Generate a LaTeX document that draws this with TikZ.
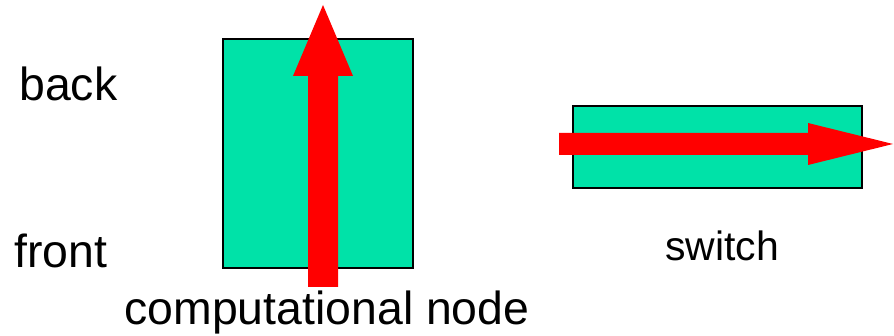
\documentclass[tikz,border=0pt]{standalone}
\usepackage{fontspec}
\setmainfont{Liberation Sans}
\definecolor{boardgreen}{RGB}{0,226,168}
\definecolor{flowred}{RGB}{255,0,0}
\begin{document}
\begin{tikzpicture}[every node/.style={inner sep=0pt,anchor=base},
    label/.style={font=\fontsize{26.4}{32}\selectfont},
    board/.style={fill=boardgreen,draw=black,line width=0.8pt}]
    \useasboundingbox (0,0) rectangle (17.88,6.7);
    % computational node, seen from above
    \draw[board] (4.46,1.34) rectangle (8.26,5.92);
    \fill[flowred] (6.16,0.96) -- (6.16,5.18) -- (5.86,5.18) -- (6.46,6.6)
        -- (7.06,5.18) -- (6.76,5.18) -- (6.76,0.96) -- cycle;
    % switch
    \draw[board] (11.46,2.94) rectangle (17.24,4.58);
    \fill[flowred] (11.18,4.04) -- (16.16,4.04) -- (16.16,4.24) -- (17.86,3.82)
        -- (16.16,3.40) -- (16.16,3.60) -- (11.18,3.60) -- cycle;
    \node[label,anchor=base west] (back) at (0.38,4.68) {back};
    \node[label,anchor=base west] (front) at (0.28,1.34) {front};
    \node[label] (compnode) at (6.54,0.22) {computational node};
    \node[label,font=\fontsize{23.3}{28}\selectfont] (switch) at (14.44,1.48) {switch};
\end{tikzpicture}
\end{document}
